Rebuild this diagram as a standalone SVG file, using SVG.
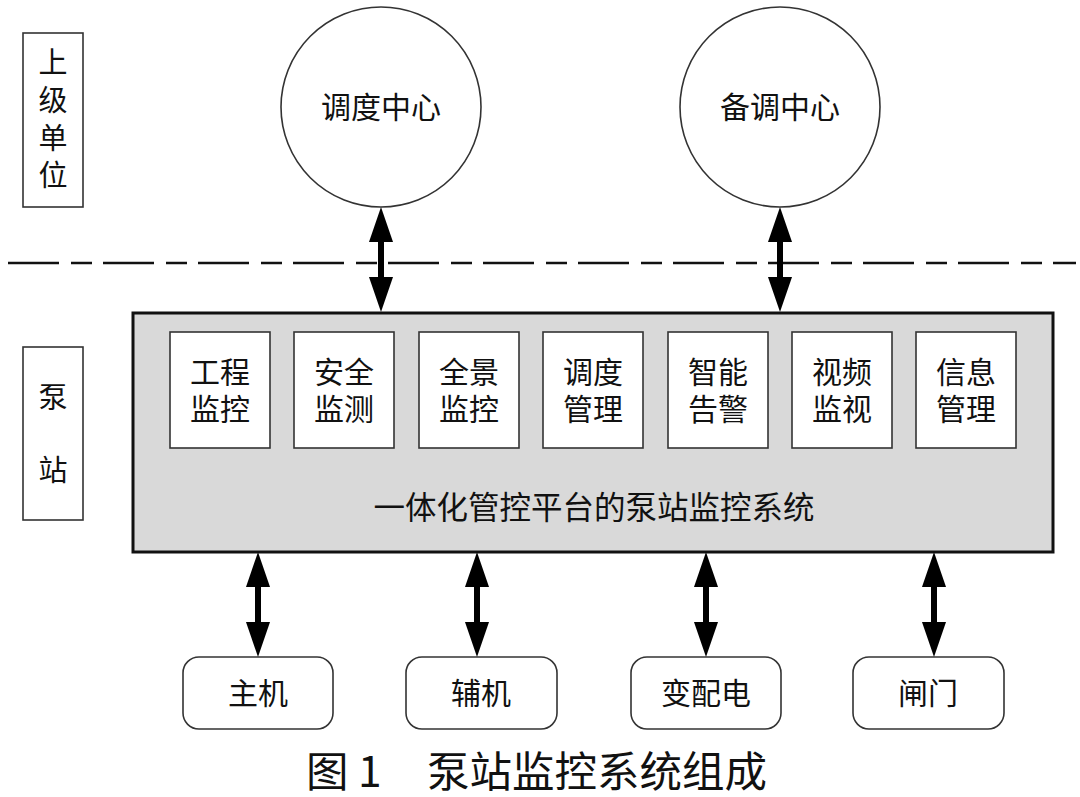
<svg xmlns="http://www.w3.org/2000/svg" xmlns:xlink="http://www.w3.org/1999/xlink" width="1080" height="797" viewBox="0 0 1080 797">
<style>
text{font-family:"Noto Sans CJK SC","Liberation Sans",sans-serif;fill:#111;text-anchor:middle}
.t{font-size:30px}
.s{font-size:29px}
.big{font-size:31.5px}
.cap{font-size:42.5px;text-anchor:start}
.box{fill:#fff;stroke:#333;stroke-width:1.6}
.circ{fill:#fff;stroke:#333;stroke-width:1.6}
.main{fill:#d9d9d9;stroke:#111;stroke-width:3}
.dash{stroke:#111;stroke-width:2.5;stroke-dasharray:51 12 21 11;fill:none}
</style>
<defs>
<g id="dbl">
<polygon points="0,0 -12,35 12,35" fill="#000"/>
<rect x="-3" y="33" width="6" height="39" fill="#000"/>
<polygon points="-12,70 12,70 0,105" fill="#000"/>
</g>
</defs>
<rect width="1080" height="797" fill="#fff"/>
<g id="upper-label">
<rect class="box" x="23" y="33" width="60" height="174"/>
<text class="s" x="53" y="73">上</text>
<text class="s" x="53" y="111">级</text>
<text class="s" x="53" y="149">单</text>
<text class="s" x="53" y="186">位</text>
</g>
<g id="station-label">
<rect class="box" x="23" y="347" width="60" height="173"/>
<text class="s" x="53" y="408">泵</text>
<text class="s" x="53" y="481">站</text>
</g>
<line class="dash" x1="8" y1="263" x2="1076" y2="263"/>
<g id="dispatch-center">
<circle class="circ" cx="381" cy="107" r="100"/>
<text class="t" x="381" y="118">调度中心</text>
</g>
<g id="backup-center">
<circle class="circ" cx="780" cy="107" r="100"/>
<text class="t" x="780" y="118">备调中心</text>
</g>
<g id="platform">
<rect class="main" x="133" y="313" width="920" height="239"/>
<text class="big" x="594" y="519">一体化管控平台的泵站监控系统</text>
</g>
<g id="m1"><rect class="box" x="170" y="332" width="100" height="116"/><text class="t" x="220" y="383">工程</text><text class="t" x="220" y="420">监控</text></g>
<g id="m2"><rect class="box" x="294" y="332" width="100" height="116"/><text class="t" x="344" y="383">安全</text><text class="t" x="344" y="420">监测</text></g>
<g id="m3"><rect class="box" x="419" y="332" width="100" height="116"/><text class="t" x="469" y="383">全景</text><text class="t" x="469" y="420">监控</text></g>
<g id="m4"><rect class="box" x="543" y="332" width="100" height="116"/><text class="t" x="593" y="383">调度</text><text class="t" x="593" y="420">管理</text></g>
<g id="m5"><rect class="box" x="668" y="332" width="100" height="116"/><text class="t" x="718" y="383">智能</text><text class="t" x="718" y="420">告警</text></g>
<g id="m6"><rect class="box" x="792" y="332" width="100" height="116"/><text class="t" x="842" y="383">视频</text><text class="t" x="842" y="420">监视</text></g>
<g id="m7"><rect class="box" x="916" y="332" width="100" height="116"/><text class="t" x="966" y="383">信息</text><text class="t" x="966" y="420">管理</text></g>
<g id="d1"><rect class="box" x="183" y="657" width="150" height="72" rx="16"/><text class="t" x="258" y="704">主机</text></g>
<g id="d2"><rect class="box" x="406" y="657" width="151" height="72" rx="16"/><text class="t" x="481" y="704">辅机</text></g>
<g id="d3"><rect class="box" x="631" y="657" width="150" height="72" rx="16"/><text class="t" x="706" y="704">变配电</text></g>
<g id="d4"><rect class="box" x="853" y="657" width="151" height="72" rx="16"/><text class="t" x="928" y="704">闸门</text></g>
<g id="connectors">
<use xlink:href="#dbl" x="381" y="207"/>
<use xlink:href="#dbl" x="780" y="207"/>
<use xlink:href="#dbl" x="258" y="552"/>
<use xlink:href="#dbl" x="477" y="552"/>
<use xlink:href="#dbl" x="706" y="552"/>
<use xlink:href="#dbl" x="934" y="552"/>
</g>
<text class="cap" x="306" y="787">图 1</text>
<text class="cap" x="427" y="787">泵站监控系统组成</text>
</svg>
